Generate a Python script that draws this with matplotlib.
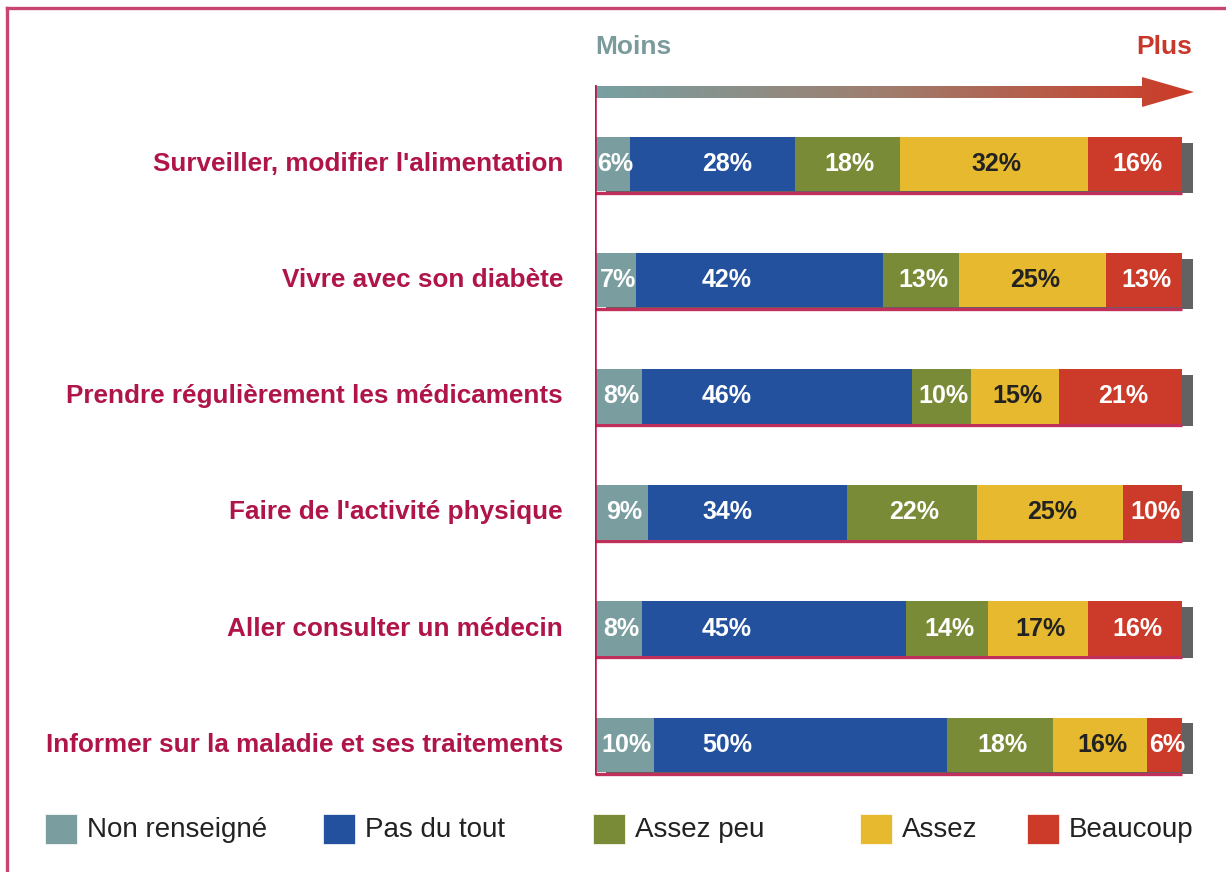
import numpy as np
import matplotlib.pyplot as plt
from matplotlib.patches import Polygon, Rectangle
from matplotlib.colors import LinearSegmentedColormap

categories = [
    "Surveiller, modifier l'alimentation",
    "Vivre avec son diabète",
    "Prendre régulièrement les médicaments",
    "Faire de l'activité physique",
    "Aller consulter un médecin",
    "Informer sur la maladie et ses traitements",
]
non_renseigne = [6, 7, 8, 9, 8, 10]
pas_du_tout = [28, 42, 46, 34, 45, 50]
assez_peu = [18, 13, 10, 22, 14, 18]
assez = [32, 25, 15, 25, 17, 16]
beaucoup = [16, 13, 21, 10, 16, 6]

series_names = ["Non renseigné", "Pas du tout", "Assez peu", "Assez", "Beaucoup"]
series = [non_renseigne, pas_du_tout, assez_peu, assez, beaucoup]
colors = ["#7a9ea0", "#23519e", "#7a8b38", "#e6b92e", "#cc3a2a"]
text_colors = ["white", "white", "white", "#222222", "white"]

crimson = "#b0154a"
narrow = ["Liberation Sans Narrow", "Liberation Sans", "DejaVu Sans"]

W, H = 1226, 872
fig = plt.figure(figsize=(W / 100, H / 100), dpi=100)
fig.patch.set_facecolor("white")

# bar axes: x=0 at pixel 595, x=100 at pixel 1182
ax = fig.add_axes([595 / W, 1 - 775 / H, 587 / W, 690 / H])
ax.set_xlim(0, 100)
ax.set_ylim(5.26, -0.68)
ax.axis("off")

y = np.arange(len(categories))
bh = 0.47
px = 100 / 587  # data units per pixel in x
py = 1 / 116.2  # data units per pixel in y

totals = np.sum(series, axis=0)
for i in range(len(categories)):
    # drop shadow
    ax.add_patch(Rectangle((11 * px, y[i] - bh / 2 + 6 * py), totals[i], bh - 4 * py,
                           color="#626262", zorder=1, lw=0, clip_on=False))
    # crimson underline
    ax.plot([0, totals[i]], [y[i] + bh / 2 + 1.5 * py] * 2, color="#c0305a",
            lw=2.4, zorder=2, solid_capstyle="butt", clip_on=False)

left = np.zeros(len(categories))
for k, vals in enumerate(series):
    vals = np.array(vals)
    ax.barh(y, vals, left=left, height=bh, color=colors[k], zorder=3, lw=0)
    for i, v in enumerate(vals):
        if k == 1:
            xt = 22.5
        else:
            xt = left[i] + v / 2 + 0.4
        ax.text(xt, y[i], f"{v}%", ha="center", va="center", color=text_colors[k],
                fontsize=18, fontweight="bold", family=narrow, zorder=4, clip_on=False)
    left += vals

for i, cat in enumerate(categories):
    ax.text(-32 * px, y[i], cat, ha="right", va="center", color=crimson,
            fontsize=18.8, fontweight="bold", family=narrow, clip_on=False)

ax.axvline(0, color="#c0134a", lw=1.8, zorder=5)

# overlay in pixel coordinates
ov = fig.add_axes([0, 0, 1, 1], zorder=-1)
ov.set_xlim(0, W)
ov.set_ylim(H, 0)
ov.axis("off")
ov.patch.set_visible(False)

# frame
ov.plot([7, W], [8, 8], color="#c9446e", lw=2.4)
ov.plot([7, 7], [8, H], color="#c9446e", lw=2.4)

# gradient arrow
arrow_pts = [(595, 86), (1142, 86), (1142, 77), (1194, 92), (1142, 107), (1142, 98), (595, 98)]
poly = Polygon(arrow_pts, closed=True, facecolor="none", edgecolor="none")
ov.add_patch(poly)
cmap = LinearSegmentedColormap.from_list("moinsplus", ["#78a0a2", "#a07c6c", "#cc3a26"])
grad = np.linspace(0, 1, 256).reshape(1, -1)
im = ov.imshow(grad, cmap=cmap, extent=(595, 1194, 107, 77), aspect="auto")
im.set_clip_path(poly)
ov.set_xlim(0, W)
ov.set_ylim(H, 0)

ov.text(595, 47, "Moins", ha="left", va="center", color="#7a9a9c",
        fontsize=19, fontweight="bold", family=narrow)
ov.text(1192, 47, "Plus", ha="right", va="center", color="#c8372a",
        fontsize=19, fontweight="bold", family=narrow)

# legend
sq_x = [45, 323, 593, 860, 1027]
for k, name in enumerate(series_names):
    ov.add_patch(Rectangle((sq_x[k], 814), 32, 30, facecolor=colors[k],
                           edgecolor="white", lw=0.5))
    ov.text(sq_x[k] + 42, 830, name, ha="left", va="center", color="#222222",
            fontsize=20, family=narrow)

fig.savefig("out.png", dpi=100)
